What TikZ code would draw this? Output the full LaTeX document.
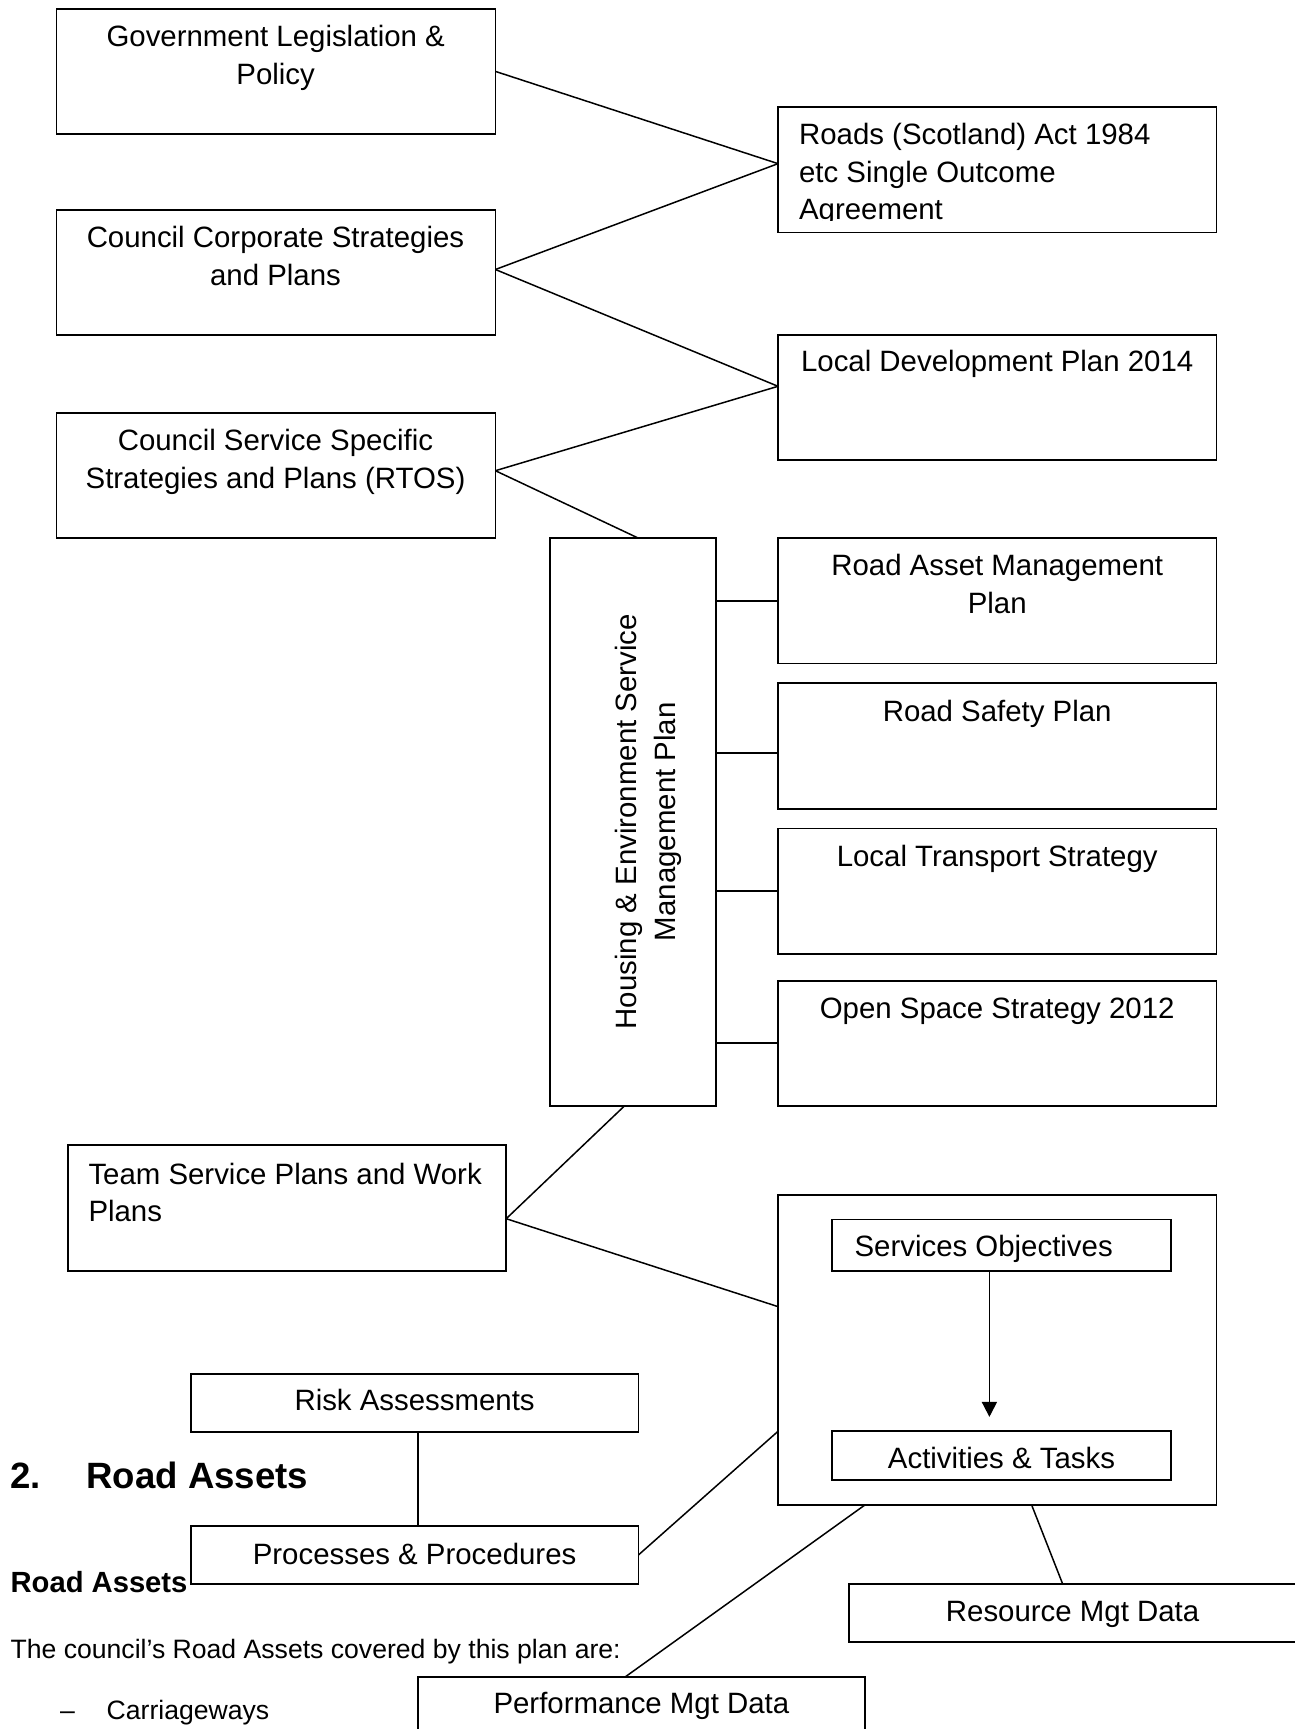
\documentclass[tikz,border=0pt]{standalone}
\usepackage{fontspec}
\setmainfont{Liberation Sans}
\usetikzlibrary{arrows.meta}
\begin{document}
\begin{tikzpicture}[x=1pt,y=-1pt,
  bx/.style={draw, line width=1.8pt, inner sep=0pt, outer sep=0pt, anchor=north west},
  conn/.style={line width=1.5pt},
  lab/.style={inner sep=0pt, font=\fontsize{29.4}{37.5}\selectfont},
  body/.style={inner sep=0pt, anchor=base west, font=\fontsize{26.6}{32}\selectfont}]
\useasboundingbox (0,0) rectangle (1295,1729);
% boxes
\node[bx, minimum width=439pt, minimum height=125pt] (gov) at (56.4,8.9) {};
\node[bx, minimum width=439pt, minimum height=125pt] (corp) at (56.4,210) {};
\node[bx, minimum width=439pt, minimum height=125pt] (serv) at (56.4,413.2) {};
\node[bx, minimum width=438.4pt, minimum height=125.7pt] (roads) at (778,106.8) {};
\node[bx, minimum width=438.4pt, minimum height=124.6pt] (ldp) at (778,335) {};
\node[bx, minimum width=166pt, minimum height=567.4pt] (hesmp) at (549.8,538.2) {};
\node[bx, minimum width=438.4pt, minimum height=125.3pt] (ramp) at (778,538.2) {};
\node[bx, minimum width=438.4pt, minimum height=125.4pt] (rsp) at (778,683.3) {};
\node[bx, minimum width=438.4pt, minimum height=125.4pt] (lts) at (778,828.4) {};
\node[bx, minimum width=438.4pt, minimum height=125pt] (oss) at (778,980.6) {};
\node[bx, minimum width=438.6pt, minimum height=125.6pt] (team) at (67.6,1145.3) {};
\node[bx, minimum width=438.4pt, minimum height=310.4pt] (outer) at (778,1194.7) {};
\node[bx, minimum width=338.6pt, minimum height=51.8pt] (svc) at (832.2,1219.5) {};
\node[bx, minimum width=338.6pt, minimum height=49pt] (act) at (832.2,1431.3) {};
\node[bx, minimum width=447.8pt, minimum height=57.7pt] (risk) at (190.7,1374) {};
\node[bx, minimum width=447.8pt, minimum height=58.6pt] (proc) at (190.7,1525.6) {};
\node[bx, minimum width=447pt, minimum height=58.5pt] (res) at (849.1,1583.8) {};
\node[bx, minimum width=446.7pt, minimum height=58.2pt] (perf) at (418,1676.8) {};
% box texts
\node[lab, anchor=north, align=center] (govt) at (275.7,20.2) {\strut Government Legislation \&\\Policy};
\node[lab, anchor=north, align=center] (corpt) at (275.5,221.3) {\strut Council Corporate Strategies\\and Plans};
\node[lab, anchor=north, align=center] (servt) at (275.5,424.5) {\strut Council Service Specific\\Strategies and Plans (RTOS)};
\begin{scope}
\clip (778,100) rectangle (1216.4,220);
\node[lab, anchor=north west, align=left] (roadst) at (798.9,118.4) {\strut Roads (Scotland) Act 1984\\etc Single Outcome\\Agreement};
\end{scope}
\node[lab, anchor=base] (ldpt) at (997.2,371.4) {Local Development Plan 2014};
\node[lab, anchor=north, align=center] (rampt) at (997.2,549.2) {\strut Road Asset Management\\Plan};
\node[lab, anchor=base] (rspt) at (997.2,721.7) {Road Safety Plan};
\node[lab, anchor=base] (ltst) at (997.2,866.8) {Local Transport Strategy};
\node[lab, anchor=base] (osst) at (997.2,1018.2) {Open Space Strategy 2012};
\node[lab, rotate=90, anchor=north, align=center, font=\fontsize{29.4}{39}\selectfont] (hesmpt) at (609.1,821.7) {\strut Housing \& Environment Service\\Management Plan};
\node[lab, anchor=north west, align=left] (teamt) at (88.3,1158) {\strut Team Service Plans and Work\\Plans};
\node[lab, anchor=base west] (svct) at (854.4,1256.4) {Services Objectives};
\node[lab, anchor=base] (actt) at (1001.5,1468.2) {Activities \& Tasks};
\node[lab, anchor=base] (riskt) at (414.6,1410.9) {Risk Assessments};
\node[lab, anchor=base] (proct) at (414.6,1564.1) {Processes \& Procedures};
\node[lab, anchor=base] (rest) at (1072.6,1621.5) {Resource Mgt Data};
\node[lab, anchor=base] (perft) at (641.4,1713.7) {Performance Mgt Data};
% document text
\node[inner sep=0pt, anchor=base west, font=\fontsize{36.6}{44}\selectfont\bfseries] (h2n) at (10.4,1488.3) {2.};
\node[inner sep=0pt, anchor=base west, font=\fontsize{36.6}{44}\selectfont\bfseries] (h2t) at (86.2,1488.3) {Road Assets};
\node[inner sep=0pt, anchor=base west, font=\fontsize{29.2}{35}\selectfont\bfseries] (h3) at (10.4,1592.6) {Road Assets};
\node[body] (para) at (10.4,1658.4) {The council’s Road Assets covered by this plan are:};
\node[body] (dash) at (60,1719.7) {–};
\node[body] (item) at (106.5,1719.7) {Carriageways};
% connectors
\draw[conn] (gov.east) -- ([yshift=6pt]roads.west);
\draw[conn] ([yshift=3pt]corp.east) -- ([yshift=6pt]roads.west);
\draw[conn] ([yshift=3pt]corp.east) -- ([yshift=11pt]ldp.west);
\draw[conn] ([yshift=5pt]serv.east) -- ([yshift=11pt]ldp.west);
\draw[conn] ([yshift=5pt]serv.east) -- ([xshift=5.7pt]hesmp.north);
\draw[conn] (ramp.west -| hesmp.east) -- (ramp.west);
\draw[conn] ([yshift=-7pt]rsp.west -| hesmp.east) -- ([yshift=-7pt]rsp.west);
\draw[conn] (lts.west -| hesmp.east) -- (lts.west);
\draw[conn] (oss.west -| hesmp.east) -- (oss.west);
\draw[conn] ([xshift=-8pt]hesmp.south) -- ([yshift=-10.6pt]team.east);
\draw[conn] ([yshift=-10.6pt]team.east) -- ([yshift=43.3pt]outer.west);
\draw[conn] (proc.east) -- ([yshift=-81.4pt]outer.west);
\draw[conn] ([xshift=3.4pt]risk.south) -- ([xshift=3.4pt]proc.north);
\draw[conn] ([xshift=-132.5pt]outer.south) -- ([xshift=-16pt]perf.north);
\draw[conn] ([xshift=34.5pt]outer.south) -- ([xshift=-10pt]res.north);
\draw[line width=1.8pt, -{Triangle[width=15pt,length=15pt]}, shorten >=14.4pt] ([xshift=-12.1pt]svc.south) -- ([xshift=-12.1pt]act.north);
\end{tikzpicture}
\end{document}
